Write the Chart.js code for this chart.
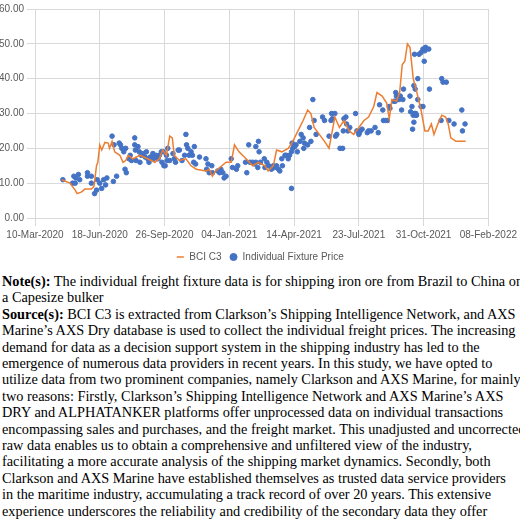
<!DOCTYPE html>
<html>
<head>
<meta charset="utf-8">
<script src="https://cdn.jsdelivr.net/npm/chart.js@4"></script>
<style>
  body { margin: 0; background: #fff; }
  #wrap { width: 520px; height: 272px; position: relative; }
  #note { font-family: "Liberation Serif", serif; font-size: 14.3px; line-height: 16.4px; color: #000; margin: 1px 0 0 2px; white-space: nowrap; }
</style>
</head>
<body>
<div id="wrap"><canvas id="chart"></canvas></div>
<div id="note">
<b>Note(s):</b> The individual freight fixture data is for shipping iron ore from Brazil to China on<br>
a Capesize bulker<br>
<b>Source(s):</b> BCI C3 is extracted from Clarkson’s Shipping Intelligence Network, and AXS<br>
Marine’s AXS Dry database is used to collect the individual freight prices. The increasing<br>
demand for data as a decision support system in the shipping industry has led to the<br>
emergence of numerous data providers in recent years. In this study, we have opted to<br>
utilize data from two prominent companies, namely Clarkson and AXS Marine, for mainly<br>
two reasons: Firstly, Clarkson’s Shipping Intelligence Network and AXS Marine’s AXS<br>
DRY and ALPHATANKER platforms offer unprocessed data on individual transactions<br>
encompassing sales and purchases, and the freight market. This unadjusted and uncorrected<br>
raw data enables us to obtain a comprehensive and unfiltered view of the industry,<br>
facilitating a more accurate analysis of the shipping market dynamics. Secondly, both<br>
Clarkson and AXS Marine have established themselves as trusted data service providers<br>
in the maritime industry, accumulating a track record of over 20 years. This extensive<br>
experience underscores the reliability and credibility of the secondary data they offer
</div>
<script>
// days since 10-Mar-2020
const bciDays = [41,54,62,65,72,77,87,91,95,97,100,103,108,113,115,119,123,131,136,140,144,151,162,174,185,192,197,203,208,212,215,223,233,241,249,264,269,274,279,295,303,308,315,326,336,345,355,360,368,373,381,391,398,406,414,421,426,431,439,447,454,459,463,470,477,485,492,500,508,515,523,528,536,543,547,551,558,563,567,571,575,579,584,591,596,602,607,612,616,622,628,634,638,642,650,660,665];
const bciVals = [11,10,8,7,7.5,8.3,8.3,9,15,16,21,19.5,21.7,21.5,20,22,19,18,16,16.5,18,17,18,17,16,17,19.5,18,23.5,23,18,16.5,17,15,14,13.5,14,12,13.5,16,16,21,19,17,15,16,15,13.5,15,19.5,19,20,22,25,28,31,30,26,24,22,20,25,29,26,28,25,24,26,28,29,32,36,35,33,28.5,34,33.5,36,44,45,50,49,40,35,31,25,25,27,24,27,29.5,29,27,23,22,22,22];

const fixDays = [43,58,60,62,63,67,69,81,81,87,87,92,95,96,100,103,106,109,111,119,122,121,126,130,132,134,137,139,141,140,145,147,149,154,154,155,156,159,161,162,164,167,170,172,174,176,178,180,182,183,185,187,190,192,195,196,198,199,201,203,204,205,208,213,215,217,221,223,227,231,233,234,236,238,241,243,245,246,248,254,264,265,267,269,273,274,282,285,287,290,292,295,303,305,311,313,325,327,330,332,336,339,341,344,345,341,
  346,348,354,355,358,361,365,368,370,373,376,378,381,382,386,388,391,393,396,396,397,398,401,403,405,409,411,414,415,416,421,424,426,429,431,434,444,447,454,457,458,459,463,464,466,471,475,476,477,480,481,483,486,495,497,500,501,502,505,513,515,519,525,530,532,537,538,541,544,547,548,554,556,557,558,561,562,564,566,568,569,579,580,582,584,585,586,588,589,583,585,587,588,591,591,596,599,586,593,596,599,602,603,608,601,609,628,630,635,627,639,647,659,660,664];
const fixVals = [11,10,12,10,11.5,12.5,11,13,12,12,10,7,8,11,10,8.5,11,9.5,11.5,23.5,21,10.5,12,21.5,21,20,19,14,13,20,17,18,16.5,23,21,19.5,16.5,20.5,19,16,18,18.5,17.5,19,17,16,17.5,17.5,18.5,17,17.5,18,17,18,19,16,19,15,15,18,16.5,20,16.5,18.5,17,16,19.5,19.5,16.5,18,24,21,20,18,19,18,16,20.5,15.5,17.5,17,14,15.5,13,15,13,13.5,13,14,13,11.5,12,17,14.5,14,15,16,13,21,16,16,15.5,16,14.5,22,20.5,
  19,16,17,14.5,16,15,14,15,14.5,15,14,13.5,17,15,18,18,17,18,8.5,19,21.5,20,20.5,21,19,22,24,23,20,21.5,21,26,22,34,28,24,29,28,23.5,28,30,28.5,30,23.5,24,20,20,25,28.5,29,27,25,26,30,25,24,24.5,25,25.5,24.5,25,25,26,24.5,32.5,31,28,28,28,32,31.5,33.5,33.5,36,35,35,34,35,31,34,37,35,30.5,32,29.5,27.5,30,29.5,29.5,25.5,38,37,30,40,34,32,32,47,47,47.5,48.5,48,49,48.5,45,37,40,39,39,28,28,27,31,25,27];

const yTicks = [0, 10, 20, 30, 40, 50, 60];
const startDate = Date.UTC(2020, 2, 10);
const months = ["Jan","Feb","Mar","Apr","May","Jun","Jul","Aug","Sep","Oct","Nov","Dec"];

function fmtDay(d) {
  const dt = new Date(startDate + d * 86400000);
  const dd = String(dt.getUTCDate()).padStart(2, "0");
  return dd + "-" + months[dt.getUTCMonth()] + "-" + dt.getUTCFullYear();
}

const font = { family: "'Liberation Sans', Arial, sans-serif", size: 10 };

new Chart(document.getElementById("chart"), {
  type: "scatter",
  data: {
    datasets: [{
      type: "line",
      label: "BCI C3",
      data: bciDays.map((d, i) => ({ x: d, y: bciVals[i] })),
      borderColor: "#ED7D31",
      backgroundColor: "#ED7D31",
      borderWidth: 1.5,
      pointRadius: 0,
      pointStyle: "line",
      tension: 0
    }, {
      label: "Individual Fixture Price",
      data: fixDays.map((d, i) => ({ x: d, y: fixVals[i] })),
      backgroundColor: "#4472C4",
      borderColor: "#4472C4",
      pointRadius: 2.3,
      pointStyle: "circle"
    }]
  },
  options: {
    responsive: true,
    maintainAspectRatio: false,
    animation: false,
    layout: { padding: { top: 2, right: 0, left: 0, bottom: 0 } },
    plugins: {
      legend: {
        position: "bottom",
        labels: { usePointStyle: true, boxWidth: 8, boxHeight: 5, font: font, color: "#595959", padding: 8 }
      },
      tooltip: { enabled: false }
    },
    scales: {
      x: {
        type: "linear",
        min: 0, max: 700,
        ticks: { stepSize: 100, callback: v => fmtDay(v), font: font, color: "#595959", maxRotation: 0, autoSkip: false },
        grid: { color: "#d9d9d9" },
        border: { color: "#d9d9d9" }
      },
      y: {
        min: 0, max: 60,
        afterBuildTicks: s => { s.ticks = yTicks.map(v => ({ value: v })); },
        afterFit: s => { s.width = 35; },
        ticks: { callback: v => v.toFixed(2), font: font, color: "#595959" },
        grid: { color: "#d9d9d9" },
        border: { display: false }
      }
    }
  }
});
</script>
</body>
</html>
